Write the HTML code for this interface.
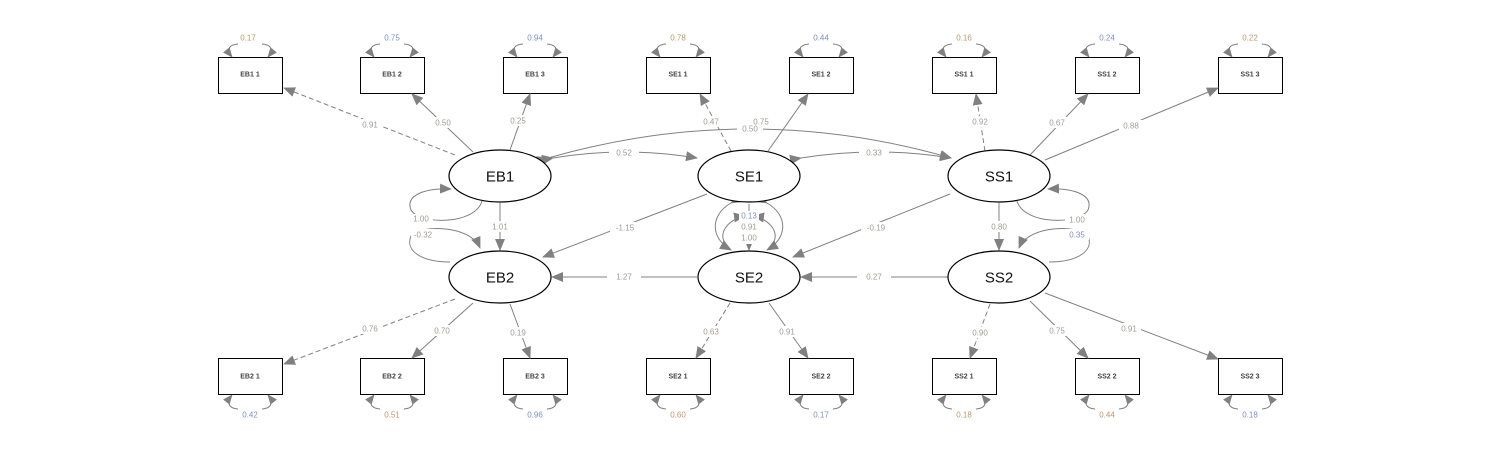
<!DOCTYPE html>
<html><head><meta charset="utf-8"><style>
html,body{margin:0;padding:0;background:#fff;}
svg{display:block;}
text{font-family:"Liberation Sans",sans-serif;}
.l{font-size:8px;fill:#a09a94;text-anchor:middle;dominant-baseline:central;}
.b{fill:#7c8fc0;}
.o{fill:#b8986e;}
.bx{font-size:7px;fill:#444;text-anchor:middle;dominant-baseline:central;font-weight:bold;white-space:pre;}
.lv{font-size:15px;fill:#111;text-anchor:middle;dominant-baseline:central;}
.e{stroke:#808080;stroke-width:1;fill:none;}
.d{stroke-dasharray:5,3;}
</style></head><body>
<svg width="1500" height="452" viewBox="0 0 1500 452" xmlns="http://www.w3.org/2000/svg">
<defs>
<marker id="a" viewBox="0 0 12 10" refX="11" refY="5" markerWidth="12" markerHeight="10" markerUnits="userSpaceOnUse" orient="auto"><path d="M0,0 L12,5 L0,10 Z" fill="#808080"/></marker>
<marker id="s" viewBox="0 0 12 10" refX="11" refY="5" markerWidth="10" markerHeight="9" markerUnits="userSpaceOnUse" orient="auto"><path d="M0,0 L12,5 L0,10 Z" fill="#808080"/></marker>
</defs>
<g id="boxes" fill="#fff" stroke="#000" stroke-width="1">
<rect x="218.5" y="57.5" width="64" height="36"/><rect x="360.5" y="57.5" width="64" height="36"/><rect x="503.5" y="57.5" width="64" height="36"/><rect x="646.5" y="57.5" width="64" height="36"/><rect x="789.5" y="57.5" width="64" height="36"/><rect x="932.5" y="57.5" width="64" height="36"/><rect x="1075.5" y="57.5" width="64" height="36"/><rect x="1218.5" y="57.5" width="64" height="36"/>
<rect x="218.5" y="358.5" width="64" height="36"/><rect x="360.5" y="358.5" width="64" height="36"/><rect x="503.5" y="358.5" width="64" height="36"/><rect x="646.5" y="358.5" width="64" height="36"/><rect x="789.5" y="358.5" width="64" height="36"/><rect x="932.5" y="358.5" width="64" height="36"/><rect x="1075.5" y="358.5" width="64" height="36"/><rect x="1218.5" y="358.5" width="64" height="36"/>
</g>
<g class="bx">
<text x="250" y="75">EB1  1</text><text x="392" y="75">EB1  2</text><text x="535" y="75">EB1  3</text><text x="678" y="75">SE1  1</text><text x="821" y="75">SE1  2</text><text x="964" y="75">SS1  1</text><text x="1107" y="75">SS1  2</text><text x="1250" y="75">SS1  3</text>
<text x="250" y="377">EB2  1</text><text x="392" y="377">EB2  2</text><text x="535" y="377">EB2  3</text><text x="678" y="377">SE2  1</text><text x="821" y="377">SE2  2</text><text x="964" y="377">SS2  1</text><text x="1107" y="377">SS2  2</text><text x="1250" y="377">SS2  3</text>
</g>
<g class="e" marker-end="url(#s)">
<path d="M238,44 C226,45 228,52 232,57"/><path d="M262,44 C274,45 272,52 268,57"/>
<path d="M380,44 C368,45 370,52 374,57"/><path d="M404,44 C416,45 414,52 410,57"/>
<path d="M523,44 C511,45 513,52 517,57"/><path d="M547,44 C559,45 557,52 553,57"/>
<path d="M666,44 C654,45 656,52 660,57"/><path d="M690,44 C702,45 700,52 696,57"/>
<path d="M809,44 C797,45 799,52 803,57"/><path d="M833,44 C845,45 843,52 839,57"/>
<path d="M952,44 C940,45 942,52 946,57"/><path d="M976,44 C988,45 986,52 982,57"/>
<path d="M1095,44 C1083,45 1085,52 1089,57"/><path d="M1119,44 C1131,45 1129,52 1125,57"/>
<path d="M1238,44 C1226,45 1228,52 1232,57"/><path d="M1262,44 C1274,45 1272,52 1268,57"/>
<path d="M238,409 C226,408 228,400 232,395"/><path d="M262,409 C274,408 272,400 268,395"/>
<path d="M380,409 C368,408 370,400 374,395"/><path d="M404,409 C416,408 414,400 410,395"/>
<path d="M523,409 C511,408 513,400 517,395"/><path d="M547,409 C559,408 557,400 553,395"/>
<path d="M666,409 C654,408 656,400 660,395"/><path d="M690,409 C702,408 700,400 696,395"/>
<path d="M809,409 C797,408 799,400 803,395"/><path d="M833,409 C845,408 843,400 839,395"/>
<path d="M952,409 C940,408 942,400 946,395"/><path d="M976,409 C988,408 986,400 982,395"/>
<path d="M1095,409 C1083,408 1085,400 1089,395"/><path d="M1119,409 C1131,408 1129,400 1125,395"/>
<path d="M1238,409 C1226,408 1228,400 1232,395"/><path d="M1262,409 C1274,408 1272,400 1268,395"/>
</g>
<g class="e" marker-end="url(#a)">
<line class="d" x1="455" y1="155" x2="284" y2="88"/>
<line x1="473" y1="152" x2="412" y2="94"/>
<line x1="510" y1="150" x2="530" y2="94"/>
<line class="d" x1="731" y1="151" x2="700" y2="94"/>
<line x1="768" y1="151" x2="808" y2="94"/>
<line class="d" x1="985" y1="151" x2="976" y2="94"/>
<line x1="1030" y1="155" x2="1088" y2="94"/>
<line x1="1045" y1="160" x2="1218" y2="88"/>
<line class="d" x1="455" y1="299" x2="284" y2="364"/>
<line x1="473" y1="303" x2="412" y2="358"/>
<line x1="510" y1="304" x2="530" y2="358"/>
<line class="d" x1="730" y1="303" x2="696" y2="358"/>
<line x1="769" y1="303" x2="808" y2="358"/>
<line class="d" x1="990" y1="304" x2="970" y2="358"/>
<line x1="1030" y1="301" x2="1088" y2="358"/>
<line x1="1045" y1="293" x2="1218" y2="359"/>
<line x1="500" y1="203" x2="500" y2="250"/>
<line x1="707" y1="194" x2="543" y2="257"/>
<line x1="697" y1="277" x2="552" y2="277"/>
<line x1="950" y1="194" x2="793" y2="257"/>
<line x1="948" y1="277" x2="801" y2="277"/>
<line x1="999" y1="203" x2="999" y2="250"/>
<line x1="749" y1="204" x2="749" y2="250"/>
</g>
<g class="e" marker-end="url(#a)" marker-start="url(#a)">
<path d="M553,158 Q625,146 697,158"/>
<path d="M801,158 Q876,146 951,158"/>
<path d="M548,158 Q750,100 951,158"/>
<path d="M731,203 C710,215 710,238 731,250"/>
<path d="M767,203 C788,215 788,238 767,250"/>
</g>
<g class="e" marker-end="url(#a)">
<path d="M482,201 C475,225 420,225 411,210 C405,195 425,188 451,189"/>
<path d="M450,262 C420,262 405,250 411,236 C418,225 470,224 480,248"/>
<path d="M1017,201 C1024,225 1079,225 1088,210 C1094,195 1074,188 1048,189"/>
<path d="M1049,262 C1079,262 1094,250 1088,236 C1081,225 1029,224 1019,248"/>
<path d="M731,250 C712,235 730,218 745,216"/>
<path d="M767,250 C786,235 768,218 753,216"/>
</g>
<g fill="#fff">
<rect x="358" y="119" width="24" height="11"/><rect x="431" y="117" width="24" height="11"/><rect x="506" y="115" width="24" height="11"/><rect x="699" y="116" width="24" height="11"/><rect x="749" y="116" width="24" height="11"/><rect x="968" y="116" width="24" height="11"/><rect x="1045" y="117" width="24" height="11"/><rect x="1119" y="120" width="24" height="11"/>
<rect x="358" y="323" width="24" height="11"/><rect x="430" y="325" width="24" height="11"/><rect x="506" y="327" width="24" height="11"/><rect x="699" y="326" width="24" height="11"/><rect x="775" y="326" width="24" height="11"/><rect x="968" y="327" width="24" height="11"/><rect x="1045" y="325" width="24" height="11"/><rect x="1117" y="323" width="24" height="11"/>
<rect x="488" y="221" width="24" height="11"/><rect x="610" y="222" width="30" height="11"/><rect x="607" y="271" width="34" height="11"/><rect x="861" y="222" width="30" height="11"/><rect x="857" y="271" width="34" height="11"/><rect x="987" y="221" width="24" height="11"/>
<rect x="609" y="147" width="30" height="11"/><rect x="859" y="147" width="30" height="11"/><rect x="737" y="123" width="26" height="11"/>
<rect x="409" y="214" width="24" height="11"/><rect x="411" y="229" width="24" height="11"/><rect x="1065" y="214" width="24" height="11"/><rect x="1065" y="229" width="24" height="11"/>
<rect x="739" y="211" width="20" height="33"/>
</g>
<g class="l">
<text x="248" y="38" class="l o">0.17</text><text x="392" y="38" class="l b">0.75</text><text x="535" y="38" class="l b">0.94</text><text x="678" y="38" class="l o">0.78</text><text x="821" y="38" class="l b">0.44</text><text x="964" y="38" class="l o">0.16</text><text x="1107" y="38" class="l b">0.24</text><text x="1250" y="38" class="l o">0.22</text>
<text x="250" y="415" class="l b">0.42</text><text x="392" y="415" class="l o">0.51</text><text x="535" y="415" class="l b">0.96</text><text x="678" y="415" class="l o">0.60</text><text x="821" y="415" class="l b">0.17</text><text x="964" y="415" class="l o">0.18</text><text x="1107" y="415" class="l o">0.44</text><text x="1250" y="415" class="l b">0.18</text>
<text x="370" y="125">0.91</text><text x="443" y="123">0.50</text><text x="518" y="121">0.25</text><text x="711" y="122">0.47</text><text x="761" y="122">0.75</text><text x="980" y="122">0.92</text><text x="1057" y="123">0.67</text><text x="1131" y="126">0.88</text>
<text x="370" y="329">0.76</text><text x="442" y="331">0.70</text><text x="518" y="333">0.19</text><text x="711" y="332">0.63</text><text x="787" y="332">0.91</text><text x="980" y="333">0.90</text><text x="1057" y="331">0.75</text><text x="1129" y="329">0.91</text>
<text x="500" y="227">1.01</text><text x="625" y="228">-1.15</text><text x="624" y="277">1.27</text><text x="876" y="228">-0.19</text><text x="874" y="277">0.27</text><text x="999" y="227">0.80</text>
<text x="624" y="153">0.52</text><text x="874" y="153">0.33</text><text x="750" y="129">0.50</text>
<text x="421" y="219">1.00</text><text x="423" y="235">-0.32</text><text x="1077" y="220">1.00</text><text x="1077" y="235" class="l b">0.35</text>
<text x="749" y="216" class="l b">0.13</text><text x="749" y="227">0.91</text><text x="749" y="238">1.00</text>
</g>
<g fill="#fff" stroke="#000" stroke-width="1.2">
<ellipse cx="500" cy="176" rx="51" ry="26"/><ellipse cx="749" cy="176" rx="51" ry="26"/><ellipse cx="999" cy="176" rx="51" ry="26"/>
<ellipse cx="500" cy="277" rx="51" ry="26"/><ellipse cx="749" cy="277" rx="51" ry="26"/><ellipse cx="999" cy="277" rx="51" ry="26"/>
</g>
<g class="lv">
<text x="500" y="177">EB1</text><text x="749" y="177">SE1</text><text x="999" y="177">SS1</text>
<text x="500" y="278">EB2</text><text x="749" y="278">SE2</text><text x="999" y="278">SS2</text>
</g>
</svg>
</body></html>
